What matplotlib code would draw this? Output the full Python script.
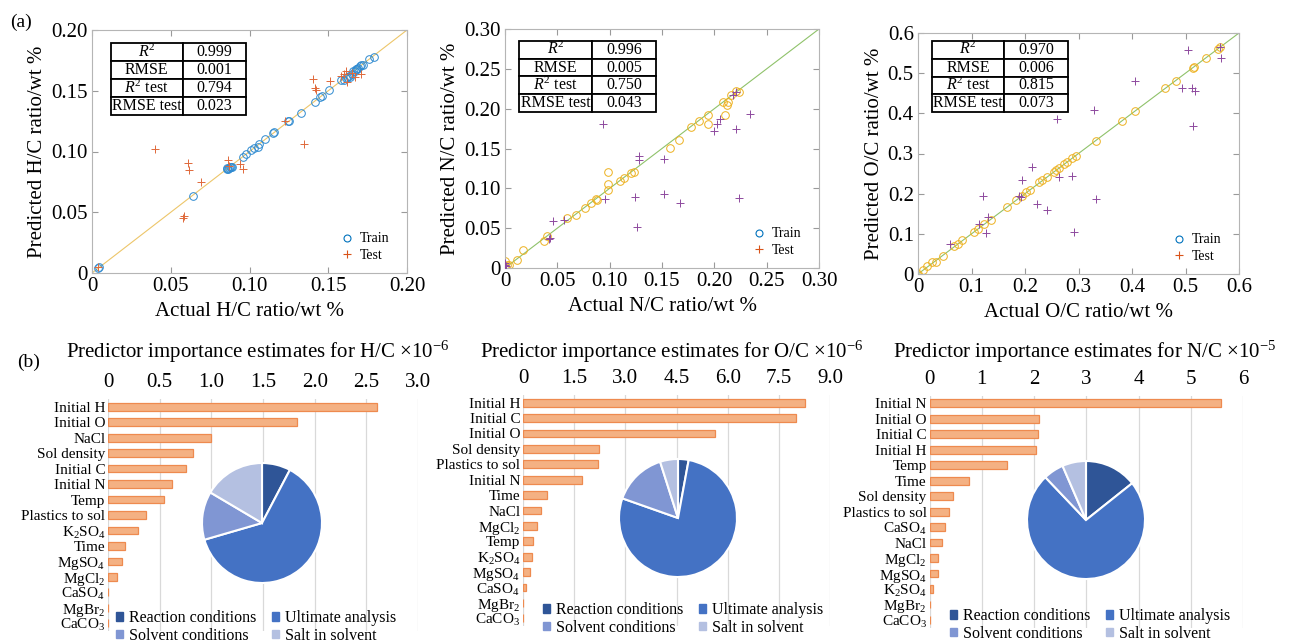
import numpy as np
import matplotlib
matplotlib.use('Agg')
import matplotlib.pyplot as plt
from matplotlib.lines import Line2D
from matplotlib.patches import Patch

plt.rcParams['font.family'] = ['Liberation Serif', 'DejaVu Serif']
plt.rcParams['mathtext.fontset'] = 'custom'
plt.rcParams['mathtext.rm'] = 'Liberation Serif'
plt.rcParams['mathtext.it'] = 'Liberation Serif:italic'
plt.rcParams['mathtext.bf'] = 'Liberation Serif:bold'

W, H = 1298, 644

# ---- scatter data (actual, predicted) ----
hc_train = [(0.004, 0.0041), (0.0042, 0.0046), (0.064, 0.0632), (0.0855, 0.086), (0.086, 0.0865),
            (0.087, 0.0868), (0.088, 0.0874), (0.0865, 0.0858), (0.0875, 0.087), (0.0886, 0.0872),
            (0.0957, 0.0956), (0.098, 0.098), (0.1007, 0.1016), (0.103, 0.1025), (0.1056, 0.104),
            (0.106, 0.106), (0.110, 0.110), (0.115, 0.1154), (0.1155, 0.1158), (0.1247, 0.125),
            (0.125, 0.1255), (0.133, 0.132), (0.1417, 0.141), (0.145, 0.145), (0.146, 0.146),
            (0.1506, 0.1505), (0.158, 0.159), (0.160, 0.159), (0.161, 0.1605), (0.162, 0.1615),
            (0.163, 0.1625), (0.164, 0.1615), (0.165, 0.164), (0.166, 0.1665), (0.167, 0.166),
            (0.1675, 0.168), (0.168, 0.1675), (0.169, 0.169), (0.170, 0.1705), (0.171, 0.171),
            (0.172, 0.171), (0.176, 0.176), (0.179, 0.1775)]
hc_test = [(0.040, 0.102), (0.061, 0.0907), (0.0615, 0.0846), (0.069, 0.075), (0.0575, 0.0456),
           (0.0585, 0.0467), (0.0863, 0.0934), (0.094, 0.090), (0.096, 0.086), (0.0838, 0.1637),
           (0.1226, 0.125), (0.1343, 0.106), (0.1402, 0.1593), (0.1417, 0.152), (0.1423, 0.1505),
           (0.1508, 0.158), (0.1597, 0.164), (0.161, 0.166), (0.162, 0.157), (0.167, 0.1615),
           (0.171, 0.164), (0.158, 0.1625), (0.165, 0.165), (0.004, 0.005), (0.087, 0.088)]

nc_train = [(0.0, 0.0084), (0.0, 0.002), (0.0, 0.0), (0.0016, 0.004), (0.004, 0.0033),
            (0.0118, 0.0105), (0.0175, 0.023), (0.037, 0.034), (0.040, 0.040), (0.059, 0.063),
            (0.0675, 0.067), (0.076, 0.075), (0.082, 0.082), (0.087, 0.086), (0.088, 0.085),
            (0.098, 0.098), (0.098, 0.105), (0.098, 0.121), (0.110, 0.109), (0.114, 0.113),
            (0.120, 0.119), (0.123, 0.121), (0.158, 0.151), (0.166, 0.161), (0.178, 0.177),
            (0.185, 0.185), (0.194, 0.192), (0.194, 0.181), (0.208, 0.208), (0.210, 0.192),
            (0.212, 0.204), (0.213, 0.208), (0.216, 0.2175), (0.221, 0.222), (0.224, 0.2205)]
nc_test = [(0.094, 0.181), (0.096, 0.087), (0.046, 0.059), (0.056, 0.060), (0.042, 0.036),
           (0.043, 0.0377), (0.124, 0.0895), (0.1257, 0.052), (0.128, 0.141), (0.128, 0.136),
           (0.152, 0.137), (0.152, 0.093), (0.167, 0.081), (0.1998, 0.172), (0.2027, 0.181),
           (0.205, 0.1875), (0.2205, 0.175), (0.2237, 0.088), (0.234, 0.193), (0.218, 0.2176),
           (0.2205, 0.2205), (0.0, 0.004), (0.001, 0.002), (0.0, 0.006)]

oc_train = [(0.0, 0.0), (0.009, 0.011), (0.017, 0.019), (0.026, 0.030), (0.034, 0.030),
            (0.047, 0.046), (0.068, 0.069), (0.075, 0.074), (0.083, 0.084), (0.105, 0.104),
            (0.112, 0.112), (0.123, 0.124), (0.136, 0.135), (0.167, 0.168), (0.183, 0.185),
            (0.194, 0.193), (0.2025, 0.203), (0.209, 0.208), (0.227, 0.228), (0.232, 0.233),
            (0.242, 0.241), (0.254, 0.255), (0.2586, 0.259), (0.2636, 0.263), (0.272, 0.274),
            (0.279, 0.278), (0.288, 0.290), (0.2947, 0.2946), (0.332, 0.332), (0.382, 0.381),
            (0.4056, 0.4055), (0.462, 0.462), (0.4816, 0.481), (0.514, 0.514), (0.516, 0.516),
            (0.539, 0.539), (0.561, 0.560), (0.564, 0.564)]
oc_test = [(0.505, 0.557), (0.405, 0.480), (0.567, 0.539), (0.494, 0.4635), (0.513, 0.464),
           (0.517, 0.456), (0.514, 0.368), (0.329, 0.408), (0.260, 0.385), (0.214, 0.266),
           (0.194, 0.233), (0.2885, 0.245), (0.263, 0.241), (0.223, 0.175), (0.242, 0.160),
           (0.332, 0.186), (0.2916, 0.1035), (0.1215, 0.1945), (0.131, 0.143), (0.114, 0.125),
           (0.128, 0.102), (0.060, 0.0745), (0.189, 0.1945), (0.192, 0.191), (0.565, 0.565)]

hc_ticks = [0, 0.05, 0.10, 0.15, 0.20]
hc_ticklabels = ['0', '0.05', '0.10', '0.15', '0.20']
nc_ticks = [0, 0.05, 0.10, 0.15, 0.20, 0.25, 0.30]
nc_ticklabels = ['0', '0.05', '0.10', '0.15', '0.20', '0.25', '0.30']
oc_ticks = [0, 0.1, 0.2, 0.3, 0.4, 0.5, 0.6]
oc_ticklabels = ['0', '0.1', '0.2', '0.3', '0.4', '0.5', '0.6']

metric_names = ['$R^2$', 'RMSE', '$R^2$ test', 'RMSE test']
hc_metrics = ['0.999', '0.001', '0.794', '0.023']
nc_metrics = ['0.996', '0.005', '0.750', '0.043']
oc_metrics = ['0.970', '0.006', '0.815', '0.073']

# ---- predictor importance data ----
hc_predictors = ['Initial H', 'Initial O', 'NaCl', 'Sol density', 'Initial C', 'Initial N', 'Temp',
                 'Plastics to sol', 'K$_2$SO$_4$', 'Time', 'MgSO$_4$', 'MgCl$_2$', 'CaSO$_4$',
                 'MgBr$_2$', 'CaCO$_3$']
hc_importance = [2.60, 1.83, 1.00, 0.82, 0.75, 0.62, 0.54, 0.365, 0.29, 0.16, 0.14, 0.09, 0, 0, 0]
hc_xticks = [0, 0.5, 1.0, 1.5, 2.0, 2.5, 3.0]
hc_xticklabels = ['0', '0.5', '1.0', '1.5', '2.0', '2.5', '3.0']
hc_pie = [7.7, 62.8, 13.0, 16.5]

oc_predictors = ['Initial H', 'Initial C', 'Initial O', 'Sol density', 'Plastics to sol', 'Initial N',
                 'Time', 'NaCl', 'MgCl$_2$', 'Temp', 'K$_2$SO$_4$', 'MgSO$_4$', 'CaSO$_4$',
                 'MgBr$_2$', 'CaCO$_3$']
oc_importance = [8.27, 8.01, 5.62, 2.23, 2.20, 1.74, 0.70, 0.53, 0.42, 0.30, 0.27, 0.20, 0.08, 0, 0]
oc_xticks = [0, 1.5, 3.0, 4.5, 6.0, 7.5, 9.0]
oc_xticklabels = ['0', '1.5', '3.0', '4.5', '6.0', '7.5', '9.0']
oc_pie = [2.9, 77.5, 14.7, 4.9]

nc_predictors = ['Initial N', 'Initial O', 'Initial C', 'Initial H', 'Temp', 'Time', 'Sol density',
                 'Plastics to sol', 'CaSO$_4$', 'NaCl', 'MgCl$_2$', 'MgSO$_4$', 'K$_2$SO$_4$',
                 'MgBr$_2$', 'CaCO$_3$']
nc_importance = [5.57, 2.10, 2.07, 2.04, 1.49, 0.755, 0.455, 0.37, 0.30, 0.23, 0.17, 0.17, 0.06, 0.015, 0]
nc_xticks = [0, 1, 2, 3, 4, 5, 6]
nc_xticklabels = ['0', '1', '2', '3', '4', '5', '6']
nc_pie = [14.3, 73.6, 5.6, 6.5]

pie_labels = ['Reaction conditions', 'Ultimate analysis', 'Solvent conditions', 'Salt in solvent']
pie_colors = ['#2F5597', '#4472C4', '#8096D3', '#B4C0E1']


def px_box(left, top, right, bottom):
    return [left / W, (H - bottom) / H, (right - left) / W, (bottom - top) / H]


def scatter_panel(fig, box, train, test, lim, ticks, ticklabels, name, metrics, tbl_box, col1,
                  line_color, train_color, test_color):
    ax = fig.add_axes(px_box(*box))
    ax.plot([0, lim], [0, lim], color=line_color, lw=0.8, zorder=1)
    tx, ty = np.array(train).T
    ax.plot(tx, ty, 'o', mfc='none', mec=train_color, ms=5.5, mew=0.7, zorder=2)
    sx, sy = np.array(test).T
    ax.plot(sx, sy, '+', color=test_color, ms=6, mew=0.7, zorder=3)
    ax.set_xlim(0, lim)
    ax.set_ylim(0, lim)
    ax.set_xticks(ticks)
    ax.set_xticklabels(ticklabels)
    ax.set_yticks(ticks)
    ax.set_yticklabels(ticklabels)
    ax.tick_params(direction='in', top=True, right=True, length=4, color='#9a9a9a',
                   labelsize=15, pad=3)
    for sp in ax.spines.values():
        sp.set_color('#b5b5b5')
        sp.set_linewidth(0.8)
    ax.set_xlabel('Actual %s ratio/wt %%' % name, fontsize=15, labelpad=4)
    ax.set_ylabel('Predicted %s ratio/wt %%' % name, fontsize=15, labelpad=3)

    tbl = ax.table(cellText=[[m, v] for m, v in zip(metric_names, metrics)],
                   cellLoc='center', bbox=tbl_box, colWidths=[col1, 1 - col1])
    tbl.auto_set_font_size(False)
    tbl.set_fontsize(11.5)
    for cell in tbl.get_celld().values():
        cell.set_linewidth(1.3)
        cell.set_edgecolor('black')
        cell.set_facecolor('white')
        cell.PAD = 0.02
    tbl.set_zorder(5)

    handles = [Line2D([], [], ls='none', marker='o', mfc='none', mec='#0072BD', ms=5, mew=0.8),
               Line2D([], [], ls='none', marker='+', color='#D95319', ms=6, mew=0.8)]
    ax.legend(handles, ['Train', 'Test'], loc='lower right', bbox_to_anchor=(0.98, 0.0),
              frameon=False, fontsize=10, handlelength=1.0, handletextpad=0.4,
              labelspacing=0.25, borderaxespad=0.4)
    return ax


def importance_panel(fig, box, predictors, values, ticks, ticklabels, xmax, title, title_x,
                     pie_vals, pie_center, pie_r, legend_center):
    ax = fig.add_axes(px_box(*box))
    y = np.arange(len(predictors))
    ax.barh(y, values, height=0.5, color='#F4B183', edgecolor='#EE8A4F', lw=0.9, zorder=2)
    ax.set_ylim(len(predictors) - 0.5, -0.5)
    ax.set_xlim(0, xmax)
    ax.set_yticks(y)
    ax.set_yticklabels(predictors, fontsize=11)
    ax.xaxis.tick_top()
    ax.set_xticks(ticks)
    ax.set_xticklabels(ticklabels)
    ax.tick_params(axis='x', length=0, labelsize=15, pad=5)
    ax.tick_params(axis='y', length=0, pad=2)
    for sp in ax.spines.values():
        sp.set_visible(False)
    ax.grid(axis='x', color='#d9d9d9', lw=0.9, zorder=0)
    ax.set_axisbelow(True)
    fig.text(title_x / W, (H - 352) / H, title, fontsize=15, ha='center', va='center')

    cx, cy = pie_center
    pax = fig.add_axes(px_box(cx - pie_r, cy - pie_r, cx + pie_r, cy + pie_r))
    pax.pie(pie_vals, colors=pie_colors, startangle=90, counterclock=False,
            wedgeprops=dict(edgecolor='white', linewidth=1.5))
    pax.set_xlim(-1.0, 1.0)
    pax.set_ylim(-1.0, 1.0)
    pax.set_aspect('equal')
    pax.axis('off')

    handles = [Patch(color=c) for c in pie_colors]
    order = [0, 2, 1, 3]
    fig.legend([handles[i] for i in order], [pie_labels[i] for i in order], ncol=2,
               loc='center', bbox_to_anchor=(legend_center[0] / W, (H - legend_center[1]) / H),
               frameon=False, fontsize=11.5, handlelength=0.45, handleheight=0.45,
               handletextpad=0.35, columnspacing=1.0, labelspacing=0.1)
    return ax


fig = plt.figure(figsize=(W / 100, H / 100), dpi=100)

scatter_panel(fig, (92, 30, 407, 273), hc_train, hc_test, 0.2, hc_ticks, hc_ticklabels, 'H/C',
              hc_metrics, [0.06, 0.65, 0.43, 0.297], 0.53, '#EDC66A', '#2E8AD0', '#E0693A')
scatter_panel(fig, (505, 29, 819, 268), nc_train, nc_test, 0.3, nc_ticks, nc_ticklabels, 'N/C',
              nc_metrics, [0.045, 0.653, 0.436, 0.297], 0.53, '#8FC26A', '#EDB120', '#8E4A9E')
scatter_panel(fig, (918, 33, 1239, 274), oc_train, oc_test, 0.6, oc_ticks, oc_ticklabels, 'O/C',
              oc_metrics, [0.044, 0.672, 0.424, 0.295], 0.53, '#8FC26A', '#EDB120', '#8E4A9E')

importance_panel(fig, (108, 399, 418, 631), hc_predictors, hc_importance, hc_xticks,
                 hc_xticklabels, 3.0, 'Predictor importance estimates for H/C \u00d710$^{\u22126}$',
                 258, hc_pie, (262, 523), 60, (256, 627))
importance_panel(fig, (523, 395, 830, 626), oc_predictors, oc_importance, oc_xticks,
                 oc_xticklabels, 9.0, 'Predictor importance estimates for O/C \u00d710$^{\u22126}$',
                 672, oc_pie, (678, 518), 59, (683, 619))
importance_panel(fig, (929.5, 395.6, 1243, 627.7), nc_predictors, nc_importance, nc_xticks,
                 nc_xticklabels, 6.0, 'Predictor importance estimates for N/C \u00d710$^{\u22125}$',
                 1085, nc_pie, (1086, 520), 59, (1090, 625))

fig.text(10 / W, (H - 22) / H, '(a)', fontsize=14, ha='left', va='center')
fig.text(17 / W, (H - 362) / H, '(b)', fontsize=14, ha='left', va='center')

fig.savefig('out.png', dpi=100)
